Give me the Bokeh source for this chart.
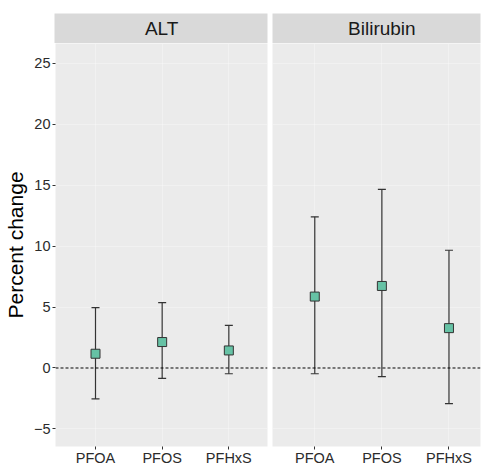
from bokeh.plotting import figure
from bokeh.layouts import column, row
from bokeh.models import ColumnDataSource, Whisker, TeeHead, FixedTicker, Span
from bokeh.core.properties import value
from bokeh.embed import file_html
from bokeh.resources import INLINE

# ---- data ----
outcomes = ["ALT", "Bilirubin"]
compounds = ["PFOA", "PFOS", "PFHxS"]
alt_est = [1.17, 2.13, 1.44]
alt_lo = [-2.54, -0.85, -0.47]
alt_hi = [4.96, 5.37, 3.49]
bili_est = [5.86, 6.73, 3.27]
bili_lo = [-0.47, -0.71, -2.92]
bili_hi = [12.4, 14.65, 9.66]
y_ticks = [-5, 0, 5, 10, 15, 20, 25]

FONT = "Liberation Sans"
PANEL_BG = "#ebebeb"
STRIP_BG = "#d9d9d9"
FILL = "#66c2a5"
DARK = "#333333"

xpos = [i + 1 for i in range(len(compounds))]
labels = {x: c for x, c in zip(xpos, compounds)}
xmid = sum(xpos) / len(xpos)

Y0, Y1 = -6.44, 26.62
XR_L = (0.4, 3.58)
XR_R = (0.37, 3.47)


def make_strip(text, width, left, right, xr):
    s = figure(width=width, height=43, x_range=xr, y_range=(0, 1),
               output_backend="svg", toolbar_location=None,
               min_border_top=13, min_border_bottom=0,
               min_border_left=left, min_border_right=right,
               x_axis_location=None, y_axis_location=None)
    s.background_fill_color = STRIP_BG
    s.border_fill_color = "white"
    s.outline_line_color = None
    s.grid.visible = False
    s.text(x=[xmid], y=[0.5], text=[text], text_align="center",
           text_baseline="middle", text_font=value(FONT),
           text_font_size="19px", text_color="#1a1a1a")
    return s


def make_panel(est, lo, hi, width, left, right, xr, show_y):
    p = figure(width=width, height=425, x_range=xr, y_range=(Y0, Y1),
               output_backend="svg", toolbar_location=None,
               min_border_top=0, min_border_bottom=21,
               min_border_left=left, min_border_right=right,
               y_axis_location="left" if show_y else None)
    p.background_fill_color = PANEL_BG
    p.border_fill_color = "white"
    p.outline_line_color = None

    p.xaxis.ticker = FixedTicker(ticks=xpos)
    p.xaxis.major_label_overrides = labels
    p.xaxis.axis_line_color = None
    p.xaxis.major_tick_out = 3
    p.xaxis.major_tick_in = 0
    p.xaxis.major_tick_line_color = DARK
    p.xaxis.minor_tick_line_color = None
    p.xaxis.major_label_standoff = 0
    p.xaxis.major_label_text_font = FONT
    p.xaxis.major_label_text_font_size = "14.5px"
    p.xaxis.major_label_text_color = "#2b2b2b"

    p.xgrid.ticker = FixedTicker(ticks=xpos)
    p.ygrid.ticker = FixedTicker(ticks=y_ticks)
    p.grid.grid_line_color = "white"
    p.grid.grid_line_alpha = 0.3
    p.grid.grid_line_width = 1

    if show_y:
        p.yaxis.ticker = FixedTicker(ticks=y_ticks)
        p.yaxis.axis_line_color = None
        p.yaxis.major_tick_out = 3
        p.yaxis.major_tick_in = 0
        p.yaxis.major_tick_line_color = DARK
        p.yaxis.minor_tick_line_color = None
        p.yaxis.major_label_standoff = 2
        p.yaxis.major_label_text_font = FONT
        p.yaxis.major_label_text_font_size = "14.5px"
        p.yaxis.major_label_text_color = "#2b2b2b"
        p.yaxis.axis_label = "Percent change"
        p.yaxis.axis_label_text_font = FONT
        p.yaxis.axis_label_text_font_size = "21px"
        p.yaxis.axis_label_text_font_style = "normal"
        p.yaxis.axis_label_text_color = "black"
        p.yaxis.axis_label_standoff = 4

    src = ColumnDataSource(dict(x=xpos, est=est, lo=lo, hi=hi))
    p.add_layout(Span(location=0, dimension="width", line_color="black",
                      line_dash="3 2", line_width=1))
    w = Whisker(source=src, base="x", lower="lo", upper="hi",
                line_color=DARK, line_width=1.2,
                upper_head=TeeHead(size=8, line_color=DARK, line_width=1.2),
                lower_head=TeeHead(size=8, line_color=DARK, line_width=1.2))
    p.add_layout(w)
    p.scatter(x="x", y="est", source=src, marker="square", size=9,
              fill_color=FILL, line_color=DARK, line_width=1)
    return p


strip_l = make_strip(outcomes[0], 270, 54, 3, XR_L)
strip_r = make_strip(outcomes[1], 213, 2, 3, XR_R)
panel_l = make_panel(alt_est, alt_lo, alt_hi, 270, 54, 3, XR_L, True)
panel_r = make_panel(bili_est, bili_lo, bili_hi, 213, 2, 3, XR_R, False)

layout = column(row(strip_l, strip_r, spacing=0),
                row(panel_l, panel_r, spacing=0), spacing=0)

open("out.html", "w").write(file_html(layout, INLINE))
